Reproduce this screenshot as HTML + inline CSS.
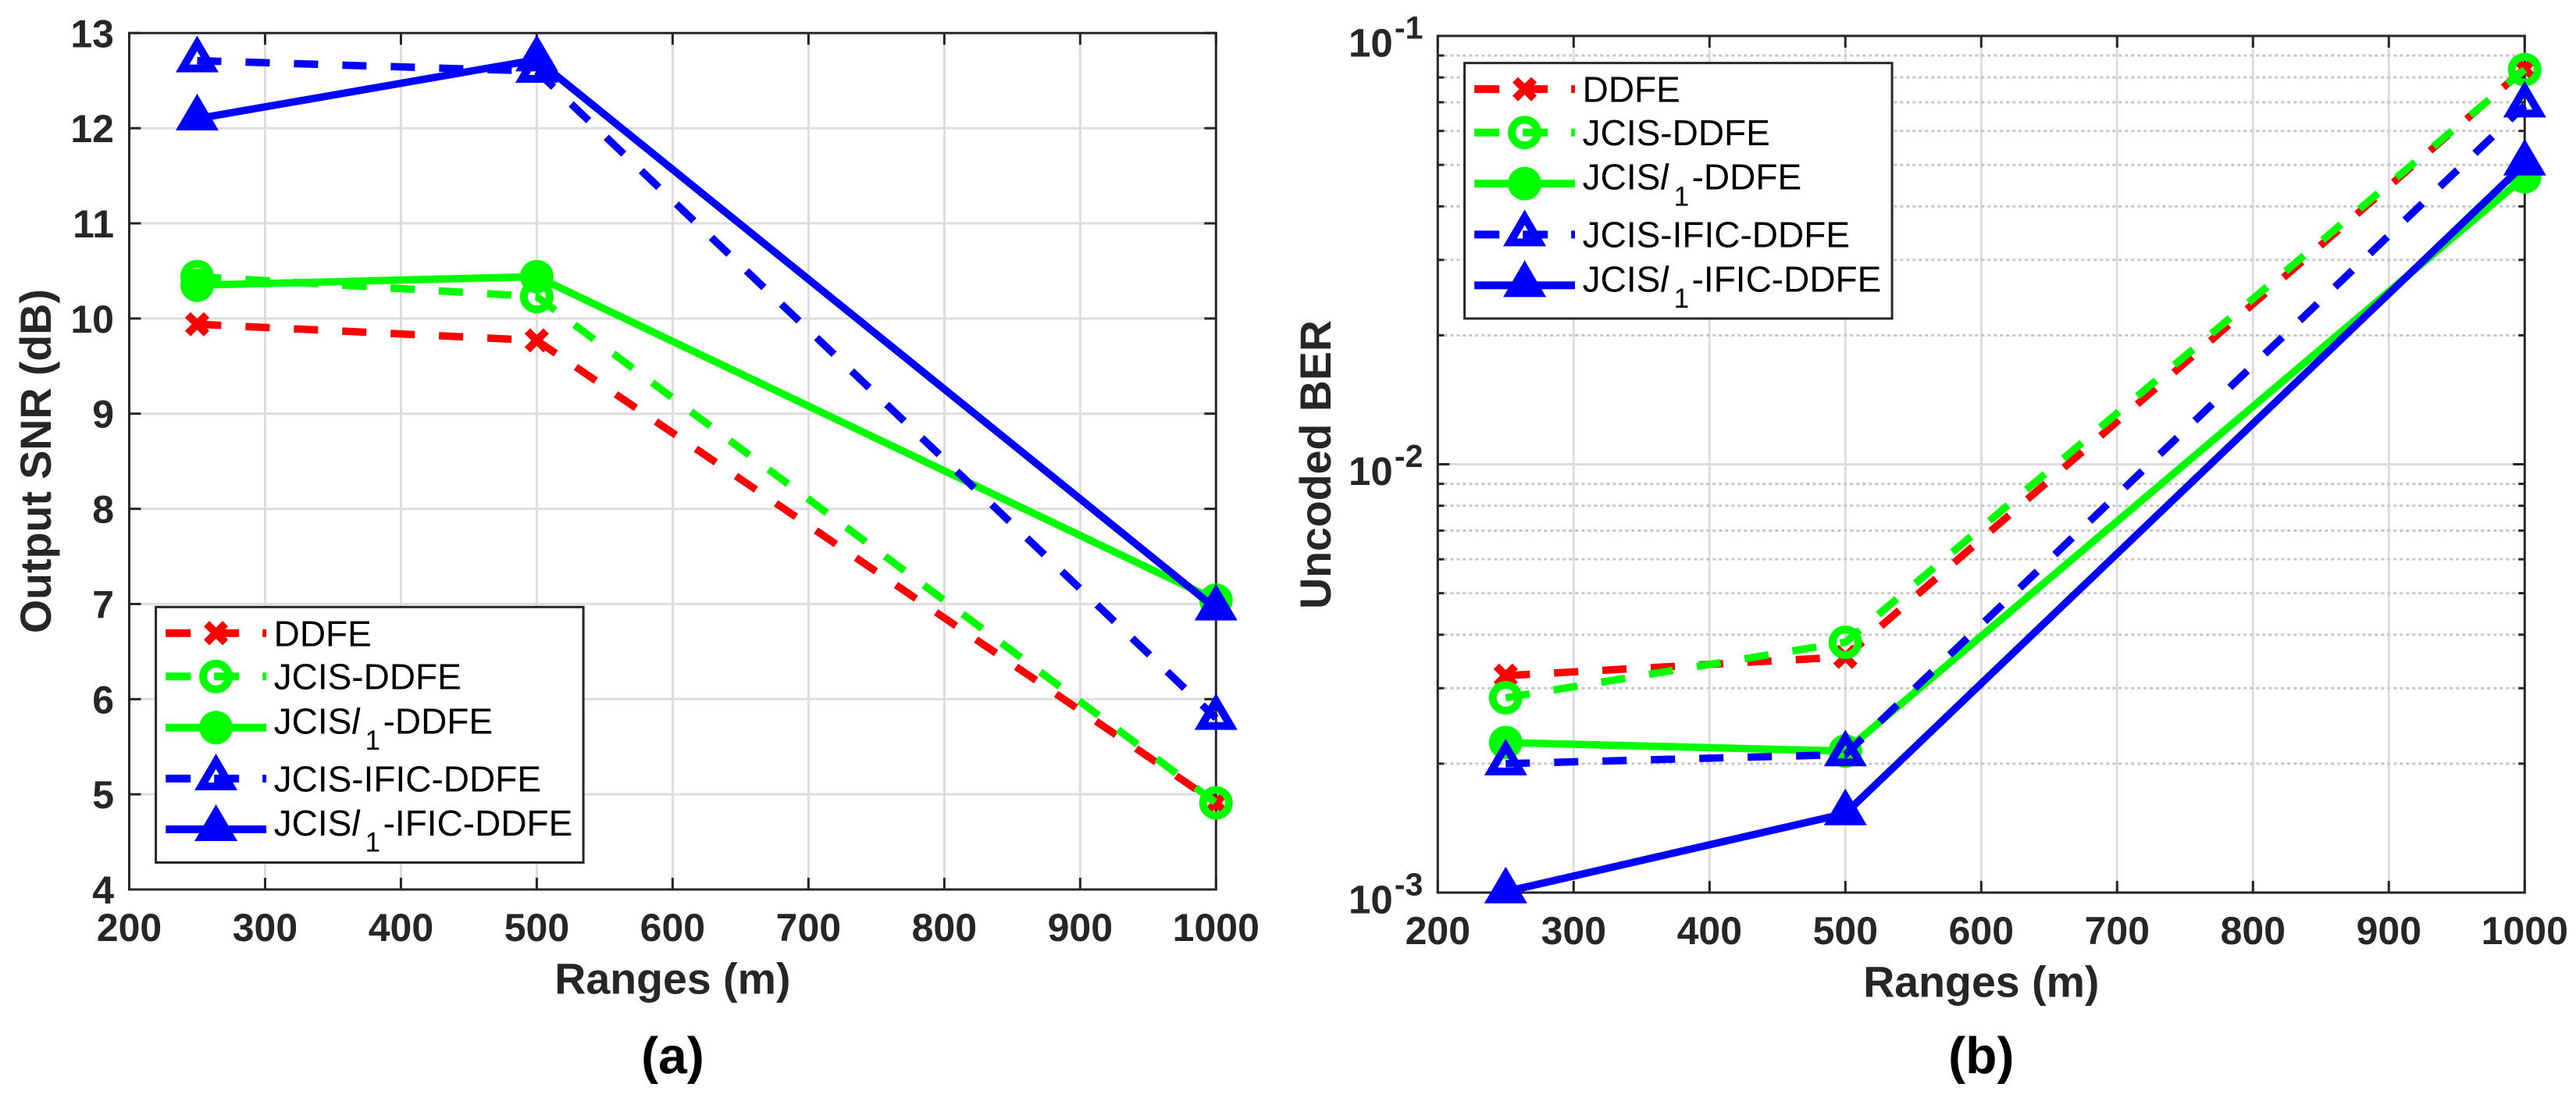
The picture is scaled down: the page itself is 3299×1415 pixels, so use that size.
<!DOCTYPE html>
<html lang="en">
<head>
<meta charset="utf-8">
<title>Output SNR and Uncoded BER versus Range</title>
<style>
  html, body { margin: 0; padding: 0; background: #ffffff; }
  body { width: 3299px; height: 1415px; overflow: hidden; }
  svg { display: block; }
  text { font-family: "Liberation Sans", Arial, sans-serif; }
</style>
</head>
<body>
<svg id="figure" xmlns="http://www.w3.org/2000/svg" width="3299" height="1415" viewBox="0 0 3299 1415"></svg>
<script>
// ---- Shared data ----
const ranges = [250, 500, 1000];
const xTickValues = [200, 300, 400, 500, 600, 700, 800, 900, 1000];
const seriesNames = ['DDFE', 'JCIS-DDFE', 'JCISl1-DDFE', 'JCIS-IFIC-DDFE', 'JCISl1-IFIC-DDFE'];

// ---- Panel (a): Output SNR in dB ----
const snrTickValues = [4, 5, 6, 7, 8, 9, 10, 11, 12, 13];
const snrDdfe = [9.94, 9.77, 4.91];
const snrJcis = [10.44, 10.23, 4.91];
const snrJcisL1 = [10.35, 10.44, 7.04];
const snrJcisIfic = [12.71, 12.60, 5.80];
const snrJcisL1Ific = [12.10, 12.72, 6.95];

// ---- Panel (b): Uncoded BER ----
const berDecades = [-3, -2, -1];
const berMinorSteps = [2, 3, 4, 5, 6, 7, 8, 9];
const berDdfe = [0.00321, 0.00355, 0.0838];
const berJcis = [0.00285, 0.00384, 0.0834];
const berJcisL1 = [0.00224, 0.00214, 0.0469];
const berJcisIfic = [0.00200, 0.00210, 0.0687];
const berJcisL1Ific = [0.001005, 0.00153, 0.0503];

const NS = 'http://www.w3.org/2000/svg';
const AXIS_COLOR = '#262626';
const GRID_COLOR = '#dddddd';
const MINOR_GRID_COLOR = '#c6c6c6';
const figure = document.getElementById('figure');

function make(parent, tag, attrs, name, interactable) {
  const el = document.createElementNS(NS, tag);
  for (const k in attrs) el.setAttribute(k, attrs[k]);
  
  
  parent.appendChild(el);
  return el;
}

function label(parent, x, y, str, size, weight, anchor, color, name) {
  const t = make(parent, 'text', {
    x: x, y: y, 'font-size': size, 'font-weight': weight,
    'text-anchor': anchor, fill: color
  }, name, false);
  t.textContent = str;
  return t;
}

function hline(parent, x1, x2, y, color, width, name, dash) {
  const a = { x1: x1, x2: x2, y1: y, y2: y, stroke: color, 'stroke-width': width };
  if (dash) a['stroke-dasharray'] = dash;
  return make(parent, 'line', a, name, false);
}

function vline(parent, x, y1, y2, color, width, name) {
  return make(parent, 'line', { x1: x, x2: x, y1: y1, y2: y2, stroke: color, 'stroke-width': width }, name, false);
}

// ---- Markers ----
function drawMarker(parent, kind, color, cx, cy, name) {
  const g = make(parent, 'g', {}, name, false);
  if (kind === 'cross') {
    make(g, 'line', { x1: cx - 12, y1: cy - 12, x2: cx + 12, y2: cy + 12, stroke: color, 'stroke-width': 10 }, 'cross-stroke-down', false);
    make(g, 'line', { x1: cx - 12, y1: cy + 12, x2: cx + 12, y2: cy - 12, stroke: color, 'stroke-width': 10 }, 'cross-stroke-up', false);
  } else if (kind === 'ring') {
    make(g, 'circle', { cx: cx, cy: cy, r: 16.5, fill: 'none', stroke: color, 'stroke-width': 10 }, 'ring-shape', false);
  } else if (kind === 'disc') {
    make(g, 'circle', { cx: cx, cy: cy, r: 21.5, fill: color }, 'disc-shape', false);
  } else if (kind === 'triangle') {
    const d = 'M' + cx + ' ' + (cy - 32) + 'L' + (cx + 27.5) + ' ' + (cy + 15) + 'L' + (cx - 27.5) + ' ' + (cy + 15) + 'Z' +
      'M' + cx + ' ' + (cy - 12.2) + 'L' + (cx + 10) + ' ' + (cy + 5) + 'L' + (cx - 10) + ' ' + (cy + 5) + 'Z';
    make(g, 'path', { d: d, fill: color, 'fill-rule': 'evenodd' }, 'open-triangle-shape', false);
  } else {
    const d = 'M' + cx + ' ' + (cy - 32) + 'L' + (cx + 27.5) + ' ' + (cy + 15) + 'L' + (cx - 27.5) + ' ' + (cy + 15) + 'Z';
    make(g, 'path', { d: d, fill: color }, 'filled-triangle-shape', false);
  }
}

// Style of each series, in the same order as seriesNames
const seriesColors = ['#ff0000', '#00ff00', '#00ff00', '#0000ff', '#0000ff'];
const seriesDashed = [true, true, false, true, false];
const seriesMarkers = ['cross', 'ring', 'disc', 'triangle', 'solidTriangle'];
const seriesSlugs = ['ddfe', 'jcis-ddfe', 'jcis-l1-ddfe', 'jcis-ific-ddfe', 'jcis-l1-ific-ddfe'];

function drawSeries(parent, values, index, xFn, yFn) {
  const slug = seriesSlugs[index];
  const g = make(parent, 'g', {}, 'series-' + slug, false);
  const pts = ranges.map(function (r, i) { return xFn(r).toFixed(2) + ',' + yFn(values[i]).toFixed(2); }).join(' ');
  const a = { points: pts, fill: 'none', stroke: seriesColors[index], 'stroke-width': 9.5, 'stroke-linejoin': 'round' };
  if (seriesDashed[index]) a['stroke-dasharray'] = '31 31';
  make(g, 'polyline', a, 'line-' + slug, false);
  ranges.forEach(function (r, i) {
    drawMarker(g, seriesMarkers[index], seriesColors[index], xFn(r), yFn(values[i]), 'point-' + slug + '-' + r);
  });
}

// ---- Legend ----
const legendRowOffsets = [33.4, 89, 154.4, 219.7, 284.7];
const legendBaselineOffsets = [50, 105.4, 162, 236, 292.7];

function legendText(parent, x, y, index) {
  const t = make(parent, 'text', { x: x, y: y, 'font-size': 46, fill: '#000000' }, 'legend-label-' + seriesSlugs[index], false);
  const name = seriesNames[index];
  const pos = name.indexOf('l1');
  if (pos < 0) { t.textContent = name; return; }
  t.appendChild(document.createTextNode(name.slice(0, pos)));
  const it = make(t, 'tspan', { 'font-style': 'italic' }, 'legend-italic-l', false);
  it.textContent = 'l';
  const sub = make(t, 'tspan', { x: x + 117, dy: 20.7, 'font-size': 35 }, 'legend-subscript-1', false);
  sub.textContent = '1';
  const rest = make(t, 'tspan', { x: x + 140, dy: -20.7 }, 'legend-label-suffix', false);
  rest.textContent = name.slice(pos + 2);
}

function drawLegend(parent, left, top) {
  const g = make(parent, 'g', {}, 'legend', false);
  make(g, 'rect', { x: left, y: top, width: 547.5, height: 327.2, fill: '#ffffff', stroke: AXIS_COLOR, 'stroke-width': 3 }, 'legend-box', false);
  seriesNames.forEach(function (n, i) {
    const row = make(g, 'g', {}, 'legend-entry-' + seriesSlugs[i], false);
    const y = top + legendRowOffsets[i];
    const a = { x1: left + 12.6, x2: left + 141.4, y1: y, y2: y, stroke: seriesColors[i], 'stroke-width': 10 };
    if (seriesDashed[i]) a['stroke-dasharray'] = '32 30';
    make(row, 'line', a, 'legend-line-' + seriesSlugs[i], false);
    drawMarker(row, seriesMarkers[i], seriesColors[i], left + 77, y, 'legend-marker-' + seriesSlugs[i]);
    legendText(row, left + 151, top + legendBaselineOffsets[i], i);
  });
}

// ---- Frame helpers ----
function drawFrame(parent, box) {
  make(parent, 'rect', {
    x: box.left, y: box.top, width: box.right - box.left, height: box.bottom - box.top,
    fill: 'none', stroke: AXIS_COLOR, 'stroke-width': 3
  }, 'plot-frame', false);
}

function drawXAxis(parent, box, xFn) {
  const g = make(parent, 'g', {}, 'x-axis', false);
  xTickValues.forEach(function (v) {
    const x = xFn(v);
    vline(g, x, box.bottom, box.bottom - 15, AXIS_COLOR, 3, 'x-tick-bottom-' + v);
    vline(g, x, box.top, box.top + 15, AXIS_COLOR, 3, 'x-tick-top-' + v);
    label(g, x, box.bottom + 66, String(v), 50, 'bold', 'middle', AXIS_COLOR, 'x-tick-label-' + v);
  });
  label(g, (box.left + box.right) / 2, box.bottom + 133.5, 'Ranges (m)', 55.5, 'bold', 'middle', AXIS_COLOR, 'x-axis-title');
}

// ---- Panel (a) ----
function drawPanelA() {
  const box = { left: 165.5, right: 1557.3, top: 42.3, bottom: 1139 };
  const xFn = function (v) { return box.left + (v - 200) / 800 * (box.right - box.left); };
  const yFn = function (v) { return box.bottom - (v - 4) / 9 * (box.bottom - box.top); };
  const panel = make(figure, 'g', {}, 'panel-a-output-snr', false);

  const grid = make(panel, 'g', {}, 'grid', false);
  xTickValues.slice(1, -1).forEach(function (v) { vline(grid, xFn(v), box.top, box.bottom, GRID_COLOR, 3, 'grid-x-' + v); });
  snrTickValues.slice(1, -1).forEach(function (v) { hline(grid, box.left, box.right, yFn(v), GRID_COLOR, 3, 'grid-y-' + v); });

  drawXAxis(panel, box, xFn);
  const yAxis = make(panel, 'g', {}, 'y-axis', false);
  snrTickValues.forEach(function (v) {
    const y = yFn(v);
    hline(yAxis, box.left, box.left + 15, y, AXIS_COLOR, 3, 'y-tick-left-' + v);
    hline(yAxis, box.right - 15, box.right, y, AXIS_COLOR, 3, 'y-tick-right-' + v);
    label(yAxis, 146, y + 18, String(v), 50, 'bold', 'end', AXIS_COLOR, 'y-tick-label-' + v);
  });
  const title = label(yAxis, 65, 590.6, 'Output SNR (dB)', 55.5, 'bold', 'middle', AXIS_COLOR, 'y-axis-title');
  title.setAttribute('transform', 'rotate(-90 65 590.6)');
  drawFrame(panel, box);

  [snrDdfe, snrJcis, snrJcisL1, snrJcisIfic, snrJcisL1Ific].forEach(function (vals, i) {
    drawSeries(panel, vals, i, xFn, yFn);
  });
  drawLegend(panel, 199.6, 777.3);
  label(panel, 861.5, 1374.3, '(a)', 66, 'bold', 'middle', '#000000', 'panel-a-caption');
}

// ---- Panel (b) ----
function drawPanelB() {
  const box = { left: 1841.3, right: 3233.3, top: 46, bottom: 1143 };
  const xFn = function (v) { return box.left + (v - 200) / 800 * (box.right - box.left); };
  const yFn = function (v) { return box.bottom - (Math.log10(v) + 3) / 2 * (box.bottom - box.top); };
  const panel = make(figure, 'g', {}, 'panel-b-uncoded-ber', false);

  const grid = make(panel, 'g', {}, 'grid', false);
  xTickValues.slice(1, -1).forEach(function (v) { vline(grid, xFn(v), box.top, box.bottom, GRID_COLOR, 3, 'grid-x-' + v); });
  hline(grid, box.left, box.right, yFn(0.01), GRID_COLOR, 3, 'grid-y-major');
  berDecades.slice(0, -1).forEach(function (d) {
    berMinorSteps.forEach(function (m) {
      hline(grid, box.left, box.right, yFn(m * Math.pow(10, d)), MINOR_GRID_COLOR, 3, 'grid-y-minor', '4 4');
    });
  });

  drawXAxis(panel, box, xFn);
  const yAxis = make(panel, 'g', {}, 'y-axis', false);
  berDecades.forEach(function (d) {
    const y = yFn(Math.pow(10, d));
    hline(yAxis, box.left, box.left + 15, y, AXIS_COLOR, 3, 'y-tick-left-major');
    hline(yAxis, box.right - 15, box.right, y, AXIS_COLOR, 3, 'y-tick-right-major');
    label(yAxis, 1727, y + 26.7, '10', 51, 'bold', 'start', AXIS_COLOR, 'y-tick-label-base');
    label(yAxis, 1822.4, y + 3.3, String(d), 41, 'bold', 'end', AXIS_COLOR, 'y-tick-label-exponent');
    if (d < -1) {
      berMinorSteps.forEach(function (m) {
        const ym = yFn(m * Math.pow(10, d));
        hline(yAxis, box.left, box.left + 8, ym, AXIS_COLOR, 3, 'y-minor-tick-left');
        hline(yAxis, box.right - 8, box.right, ym, AXIS_COLOR, 3, 'y-minor-tick-right');
      });
    }
  });
  const title = label(yAxis, 1704, 595, 'Uncoded BER', 55.5, 'bold', 'middle', AXIS_COLOR, 'y-axis-title');
  title.setAttribute('transform', 'rotate(-90 1704 595)');
  drawFrame(panel, box);

  [berDdfe, berJcis, berJcisL1, berJcisIfic, berJcisL1Ific].forEach(function (vals, i) {
    drawSeries(panel, vals, i, xFn, yFn);
  });
  drawLegend(panel, 1875.6, 80.7);
  label(panel, 2537.3, 1374.3, '(b)', 66, 'bold', 'middle', '#000000', 'panel-b-caption');
}

drawPanelA();
drawPanelB();
</script>
</body>
</html>
